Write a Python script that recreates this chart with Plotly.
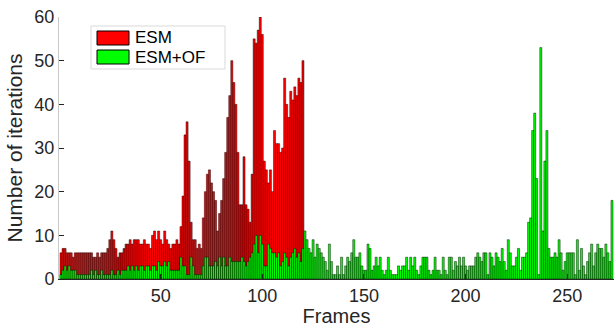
import plotly.graph_objects as go

# ESM iterations, frames 1..120
esm = [6, 7, 7, 6, 6, 6, 5, 6, 6, 6, 6, 6, 6, 6, 6, 6, 5, 5, 6, 5,
       6, 6, 6, 7, 9, 11, 9, 7, 5, 6, 6, 7, 8, 8, 9, 8, 9, 9, 9, 8,
       8, 9, 8, 8, 7, 10, 11, 9, 11, 9, 8, 11, 9, 8, 7, 8, 8, 9, 8, 12,
       19, 33, 36, 27, 13, 9, 9, 7, 8, 7, 14, 20, 24, 25, 22, 20, 18, 11, 15, 18,
       23, 29, 37, 42, 50, 45, 40, 29, 17, 17, 28, 17, 16, 13, 24, 55, 54, 57, 60, 56,
       27, 25, 22, 25, 20, 34, 31, 31, 29, 30, 46, 40, 37, 43, 41, 44, 42, 46, 45, 50]

# ESM+OF iterations, frames 1..272
esm_of = [1, 2, 3, 2, 3, 2, 2, 2, 1, 1, 1, 1, 1, 1, 1, 2, 1, 2, 1, 1,
          2, 1, 1, 1, 1, 2, 1, 1, 2, 1, 2, 2, 2, 3, 2, 3, 2, 3, 2, 3,
          3, 2, 3, 3, 2, 3, 3, 2, 4, 3, 3, 4, 3, 4, 2, 2, 2, 2,
          2, 5, 3, 3, 1, 1, 5, 3, 1, 1, 1, 1, 3, 5, 5, 3, 3, 3, 4, 3,
          5, 3, 5, 3, 3, 5, 4, 4, 4, 4, 4, 5, 4, 3, 4, 5, 6, 8, 10, 6,
          10, 8, 3, 3, 8, 7, 6, 6, 5, 6, 3, 4, 6, 5, 3, 5, 6, 7, 5,
          6, 4, 7, 11, 9, 7, 6, 9, 5, 8, 7, 6, 5, 4, 2, 8, 4, 1, 1, 3,
          1, 5, 1, 3, 5, 4, 6, 9, 5, 5, 6, 3, 2, 2, 8, 7, 2, 3, 5, 3,
          5, 2, 1, 2, 5, 2, 1, 1, 1, 3, 2, 3, 3, 5, 2, 5, 3, 5, 2, 1,
          3, 5, 5, 5, 2, 1, 2, 5, 2, 2, 1, 5, 2, 1,
          5, 5, 2, 4, 3, 5, 3, 5, 3, 2, 3, 3, 3, 5, 6, 5, 4, 6, 6, 1,
          6, 5, 3, 6, 5, 4, 7, 4, 2, 9, 6, 3, 3, 5, 7, 2, 5, 5, 6,
          13, 14, 34, 38, 23, 1, 53, 11, 27, 34, 7,
          5, 5, 6, 5, 9, 6, 2, 4, 6, 6, 6, 6, 1, 9, 2, 7, 3, 1, 4, 6,
          8, 3, 6, 8, 7, 7, 5, 8, 6, 4, 18]

frames_esm = list(range(1, len(esm) + 1))
frames_of = list(range(1, len(esm_of) + 1))

x_ticks = [50, 100, 150, 200, 250]
y_ticks = [0, 10, 20, 30, 40, 50, 60]
series_names = ["ESM", "ESM+OF"]
series_colors = ["#ff0000", "#00ff00"]

W, H = 616, 327
ML, MR, MT, MB = 59, 2, 17, 48

fig = go.Figure()
fig.add_trace(go.Bar(x=frames_esm, y=esm, name=series_names[0], showlegend=False,
                     marker=dict(color=series_colors[0], line=dict(color="black", width=0.45))))
fig.add_trace(go.Bar(x=frames_of, y=esm_of, name=series_names[1], showlegend=False,
                     marker=dict(color=series_colors[1], line=dict(color="black", width=0.45))))

# custom legend (paper coordinates computed from pixel layout)
pw, ph = W - ML - MR, H - MT - MB
def px(x):
    return (x - ML) / pw
def py(y):
    return (H - MB - y) / ph

shapes = [dict(type="rect", xref="paper", yref="paper",
               x0=px(91), x1=px(225), y0=py(69), y1=py(26),
               line=dict(color="#d9d9d9", width=1), fillcolor="white", layer="above")]
annotations = []
for i, (nm, col) in enumerate(zip(series_names, series_colors)):
    top = 31 + 19 * i
    shapes.append(dict(type="rect", xref="paper", yref="paper",
                       x0=px(97), x1=px(129), y0=py(top + 14), y1=py(top),
                       line=dict(color="black", width=1), fillcolor=col, layer="above"))
    annotations.append(dict(text=nm, xref="paper", yref="paper", x=px(134), y=py(top + 7),
                            xanchor="left", yanchor="middle", showarrow=False,
                            borderpad=0, font=dict(size=17, color="black")))

font_family = "Liberation Sans, Arial, sans-serif"
fig.update_layout(
    width=W, height=H,
    margin=dict(l=ML, r=MR, t=MT, b=MB),
    barmode="overlay", bargap=0,
    plot_bgcolor="white", paper_bgcolor="white",
    font=dict(family=font_family, size=18, color="#262626"),
    shapes=shapes, annotations=annotations,
    xaxis=dict(range=[0, 273], tickvals=x_ticks, ticks="inside", ticklen=5,
               tickcolor="#262626", showline=True, linecolor="#262626",
               showgrid=False, zeroline=False, automargin=False,
               title=dict(text="Frames", font=dict(size=20), standoff=4)),
    yaxis=dict(range=[0, 60], tickvals=y_ticks, ticks="inside", ticklen=5,
               tickcolor="#262626", showline=True, linecolor="#c8c8c8",
               showgrid=False, zeroline=False, automargin=False,
               title=dict(text="Number of iterations", font=dict(size=21), standoff=6)),
)

fig.write_html("out.html", config={"displayModeBar": False, "staticPlot": True},
               post_script="document.body.style.margin='0px';")
